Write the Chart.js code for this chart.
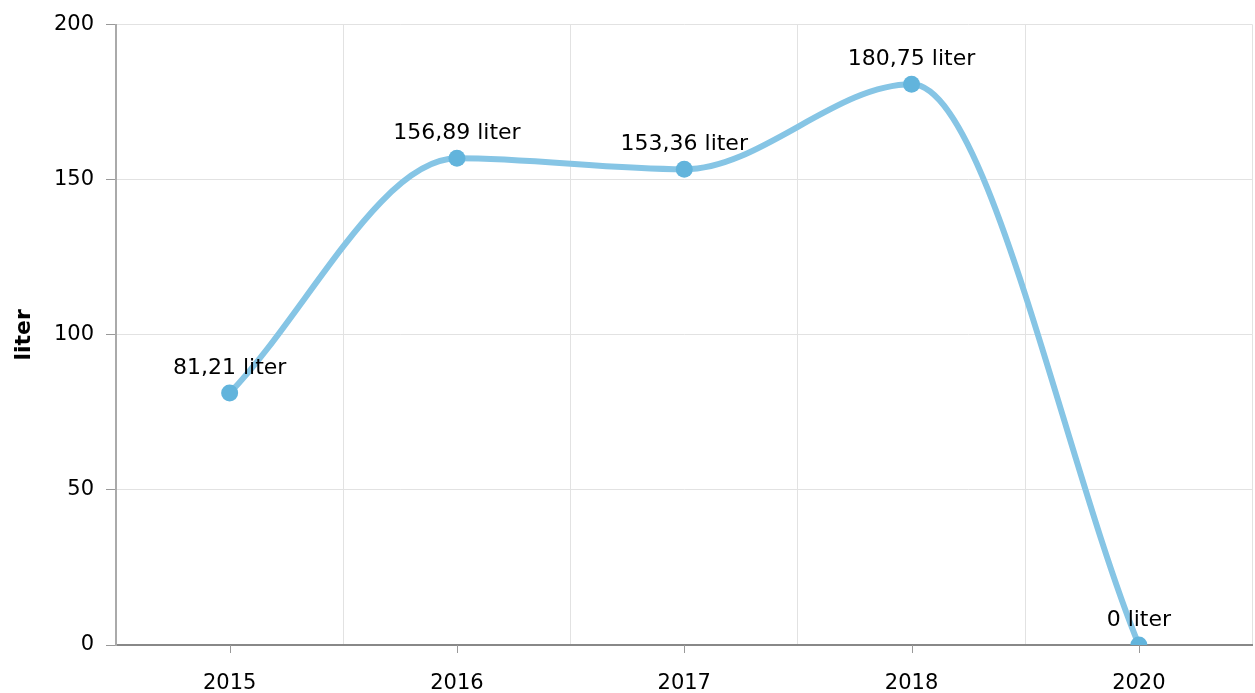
<!DOCTYPE html>
<html>
<head>
<meta charset="utf-8">
<script src="https://cdn.jsdelivr.net/npm/chart.js@4.4.1/dist/chart.umd.min.js"></script>
<style>
  html, body { margin: 0; padding: 0; background: #fff; overflow: hidden; }
  #wrap { width: 1261px; height: 693px; position: relative; }
  canvas { display: block; }
</style>
</head>
<body>
<div id="wrap"><canvas id="litersChart"></canvas></div>
<script>
const years = ['2015', '2016', '2017', '2018', '2020'];
const liters = [81.21, 156.89, 153.36, 180.75, 0];
const yTicks = [0, 50, 100, 150, 200];
const unitLabel = 'liter';

const fontFamily = '"DejaVu Sans", Verdana, sans-serif';

// value labels above each point, e.g. "81,21 liter"
const pointLabels = {
    id: 'pointLabels',
    afterDatasetsDraw(chart) {
        const ctx = chart.ctx;
        const meta = chart.getDatasetMeta(0);
        ctx.save();
        ctx.font = '22px ' + fontFamily;
        ctx.fillStyle = '#000';
        ctx.textAlign = 'center';
        ctx.textBaseline = 'middle';
        meta.data.forEach((pt, i) => {
            const txt = String(liters[i]).replace('.', ',') + ' ' + unitLabel;
            ctx.fillText(txt, pt.x, pt.y - 25);
        });
        ctx.restore();
    }
};

// small tick marks under the x axis at category centers
const centerTicks = {
    id: 'centerTicks',
    afterDraw(chart) {
        const ctx = chart.ctx;
        const x = chart.scales.x;
        ctx.save();
        ctx.strokeStyle = '#999';
        ctx.lineWidth = 1;
        years.forEach((y, i) => {
            const px = Math.round(x.getPixelForValue(i)) + 0.5;
            ctx.beginPath();
            ctx.moveTo(px, x.top);
            ctx.lineTo(px, x.top + 8);
            ctx.stroke();
        });
        ctx.restore();
    }
};

const ctx = document.getElementById('litersChart').getContext('2d');
const litersChart = new Chart(ctx, {
    type: 'line',
    data: {
        labels: years,
        datasets: [{
            label: unitLabel,
            data: liters,
            borderColor: '#86c5e5',
            borderWidth: 6,
            backgroundColor: '#62b4dc',
            pointBackgroundColor: '#62b4dc',
            pointBorderWidth: 0,
            pointRadius: 8.5,
            fill: false,
            cubicInterpolationMode: 'monotone'
        }]
    },
    options: {
        responsive: true,
        maintainAspectRatio: false,
        animation: false,
        layout: { padding: { top: 23, right: 3, left: 11, bottom: 0 } },
        plugins: {
            legend: { display: false },
            tooltip: { enabled: false }
        },
        scales: {
            x: {
                offset: true,
                grid: { offset: true, color: '#e2e2e2', lineWidth: 1, drawTicks: false },
                border: { color: '#888', width: 2 },
                ticks: { color: '#000', font: { family: fontFamily, size: 21 }, padding: 26, maxRotation: 0 },
                afterFit(scale) {
                    scale.height = 48;
                    scale.paddingLeft = 0;
                    scale.paddingRight = 0;
                }
            },
            y: {
                min: 0,
                max: 200,
                afterBuildTicks(scale) { scale.ticks = yTicks.map(v => ({ value: v })); },
                grid: { color: '#e2e2e2', lineWidth: 1, tickLength: 10, tickColor: '#999' },
                border: { color: '#aaa', width: 2 },
                ticks: { color: '#000', font: { family: fontFamily, size: 21 }, padding: 12 },
                title: {
                    display: true,
                    text: unitLabel,
                    color: '#000',
                    font: { family: fontFamily, size: 22, weight: 'bold' },
                    padding: 0
                },
                afterFit(scale) { scale.width = 105; }
            }
        }
    },
    plugins: [pointLabels, centerTicks]
});
</script>
</body>
</html>
